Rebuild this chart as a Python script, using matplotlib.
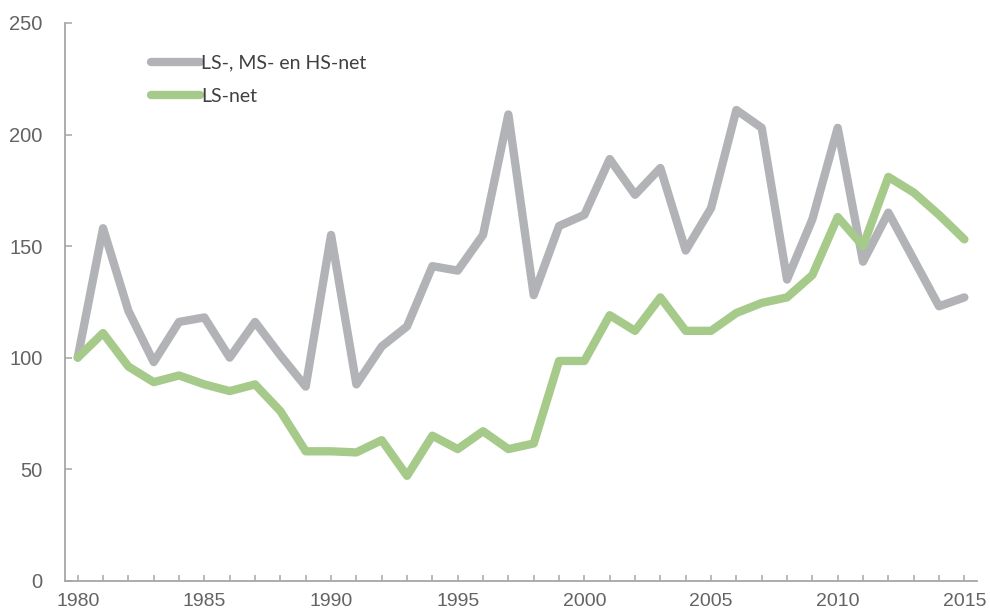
import matplotlib
matplotlib.use("Agg")
import matplotlib.pyplot as plt

# Jaren en indexreeksen (1980 = 100)
jaren = list(range(1980, 2016))
alle_netten = [100, 158, 121, 98, 116, 118, 100, 116, 101, 87,
               155, 88, 105, 114, 141, 139, 155, 209, 128, 159,
               164, 189, 173, 185, 148, 167, 211, 203, 135, 162,
               203, 143, 165, 144, 123, 127]
ls_net = [100, 111, 96, 89, 92, 88, 85, 88, 76, 58,
          58, 57.5, 63, 47, 65, 59, 67, 59, 61.5, 98.5,
          98.5, 119, 112, 127, 112, 112, 120, 124.5, 127, 137,
          163, 150, 181, 174, 164, 153]
labels = ["LS-, MS- en HS-net", "LS-net"]
yticks = [0, 50, 100, 150, 200, 250]
xticks = [1980, 1985, 1990, 1995, 2000, 2005, 2010, 2015]

GRIJS = "#b2b3b7"
GROEN = "#a6ca8a"
AS = "#a6a6a6"
TEKST = "#636363"

fig = plt.figure(figsize=(9.9, 6.13), dpi=100)
ax = fig.add_axes([0.0657, 0.0527, 0.9212, 0.9098])

kw = dict(lw=6, solid_capstyle="round", solid_joinstyle="round")
ax.plot(jaren, alle_netten, color=GRIJS, label=labels[0], **kw)
ax.plot(jaren, ls_net, color=GROEN, label=labels[1], **kw)

ax.set_xlim(1979.5, 2015.5)
ax.set_ylim(0, 250)
ax.set_yticks(yticks)
ax.set_xticks(xticks)
ax.set_xticks(jaren, minor=True)

for s in ("top", "right"):
    ax.spines[s].set_visible(False)
for s in ("left", "bottom"):
    ax.spines[s].set_color(AS)
    ax.spines[s].set_linewidth(1.3)

ax.tick_params(axis="y", direction="in", length=5, width=1.1, color=AS,
               pad=16, labelsize=14.5, labelcolor=TEKST)
ax.tick_params(axis="x", which="both", direction="in", length=4, width=1.1,
               color=AS, pad=9, labelsize=14, labelcolor=TEKST)
for t in ax.get_xticklabels() + ax.get_yticklabels():
    t.set_family(["Liberation Sans", "DejaVu Sans"])

leg = ax.legend(loc="upper left", bbox_to_anchor=(0.075, 0.975), frameon=False,
                handlelength=2.5, handletextpad=0.1, labelspacing=0.85,
                prop={"family": ["Lato", "DejaVu Sans"], "size": 14})
for t in leg.get_texts():
    t.set_color("#404040")

fig.savefig("out.png", dpi=100)
